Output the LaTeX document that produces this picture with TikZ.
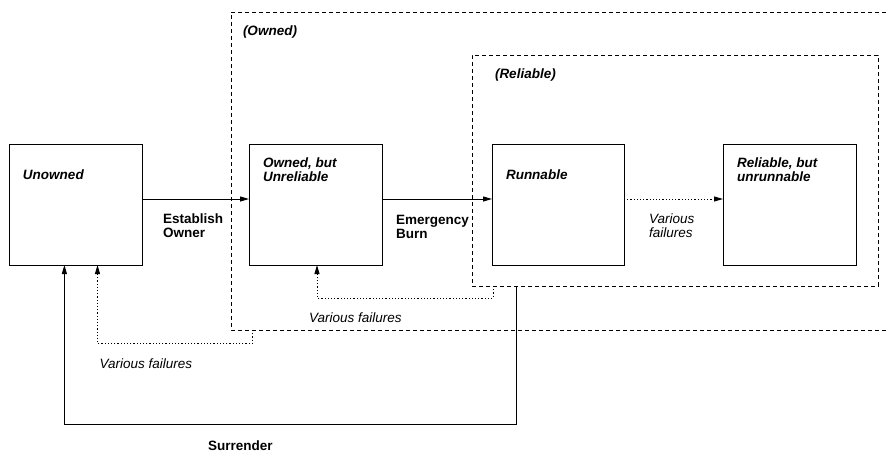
\documentclass[tikz,border=0pt]{standalone}
\usepackage{fontspec}
\setmainfont{Liberation Sans}
\usetikzlibrary{arrows.meta}
% two left-aligned lines whose baseline is the first line's
\newcommand\twoline[2]{\begin{tabular}[t]{@{}l@{}}#1\\#2\end{tabular}}
\begin{document}
\begin{tikzpicture}[x=1pt,y=-1pt,
  font=\fontsize{13.5}{14}\selectfont,
  state/.style={draw, line width=1pt, minimum width=133pt, minimum height=121pt, inner sep=0pt, outer sep=0pt},
  group/.style={draw, line width=0.9pt, dash pattern=on 4pt off 3pt},
  txt/.style={inner sep=0pt, outer sep=0pt, anchor=base west},
  statelbl/.style={txt, font=\fontsize{13.5}{14}\selectfont\bfseries\itshape},
  translbl/.style={txt, font=\fontsize{13.5}{14}\selectfont\bfseries},
  faillbl/.style={txt, font=\fontsize{13.5}{14}\selectfont\itshape},
  tip/.style={-{Triangle[length=9pt,width=5pt]}},
  go/.style={tip, line width=1pt},
  fail/.style={tip, line width=0.9pt, dash pattern=on 1.2pt off 2pt},
]
\useasboundingbox (0,0) rectangle (889,452);

% states
\node[state] (unowned) at (75.5,204.5) {};
\node[state] (ownedU) at (315.5,204.5) {};
\node[state, minimum width=132pt] (runnable) at (558,204.5) {};
\node[state] (relU) at (789.5,204.5) {};

% groups: "Reliable" inside "Owned" (which runs past the right edge)
\node[group, minimum width=406pt, minimum height=231pt, inner sep=0pt, outer sep=0pt] (relgrp) at (675,170.5) {};
\coordinate (ownNW) at (231,12);
\coordinate (ownSW) at (231,330);
\draw[group] (900,12) -- (ownNW) -- (ownSW) -- (900,330);

% state labels
\node[statelbl] (tUnowned) at (23,179) {Unowned};
\node[statelbl] (tOwnedU) at (263,167.5) {\twoline{Owned, but}{Unreliable}};
\node[statelbl] (tRunnable) at (506,179) {Runnable};
\node[statelbl] (tRelU) at (737,167.5) {\twoline{Reliable, but}{unrunnable}};
\node[statelbl] (tOwned) at (243,36) {(Owned)};
\node[statelbl] (tReliable) at (495,78) {(Reliable)};

% forward transitions
\coordinate (row) at (0,199);
\draw[go] (unowned.east |- row) -- (ownedU.west |- row);
\draw[go] (ownedU.east |- row) -- (runnable.west |- row);
\draw[fail] (runnable.east |- row) -- (relU.west |- row);

\node[translbl] (tEstablish) at (163,223.3) {\twoline{Establish}{Owner}};
\node[translbl] (tBurn) at (396,224) {\twoline{Emergency}{Burn}};
\node[faillbl] (tFail1) at (649,223) {\twoline{Various}{failures}};

% returns
\coordinate (a1) at (493,298);
\coordinate (a2) at (317,0);
\draw[fail] (relgrp.south -| a1) -- (a1) -| (ownedU.south -| a2);
\node[faillbl] (tFail2) at (309,322.5) {Various failures};

\coordinate (b1) at (252,343.7);
\coordinate (b2) at (97.5,0);
\draw[fail] (ownSW -| b1) -- (b1) -| (unowned.south -| b2);
\node[faillbl] (tFail3) at (99.5,368.5) {Various failures};

\coordinate (c1) at (516,424);
\coordinate (c2) at (64.4,0);
\draw[go] (relgrp.south -| c1) -- (c1) -| (unowned.south -| c2);
\node[translbl] (tSurrender) at (208,450.5) {Surrender};
\end{tikzpicture}
\end{document}
